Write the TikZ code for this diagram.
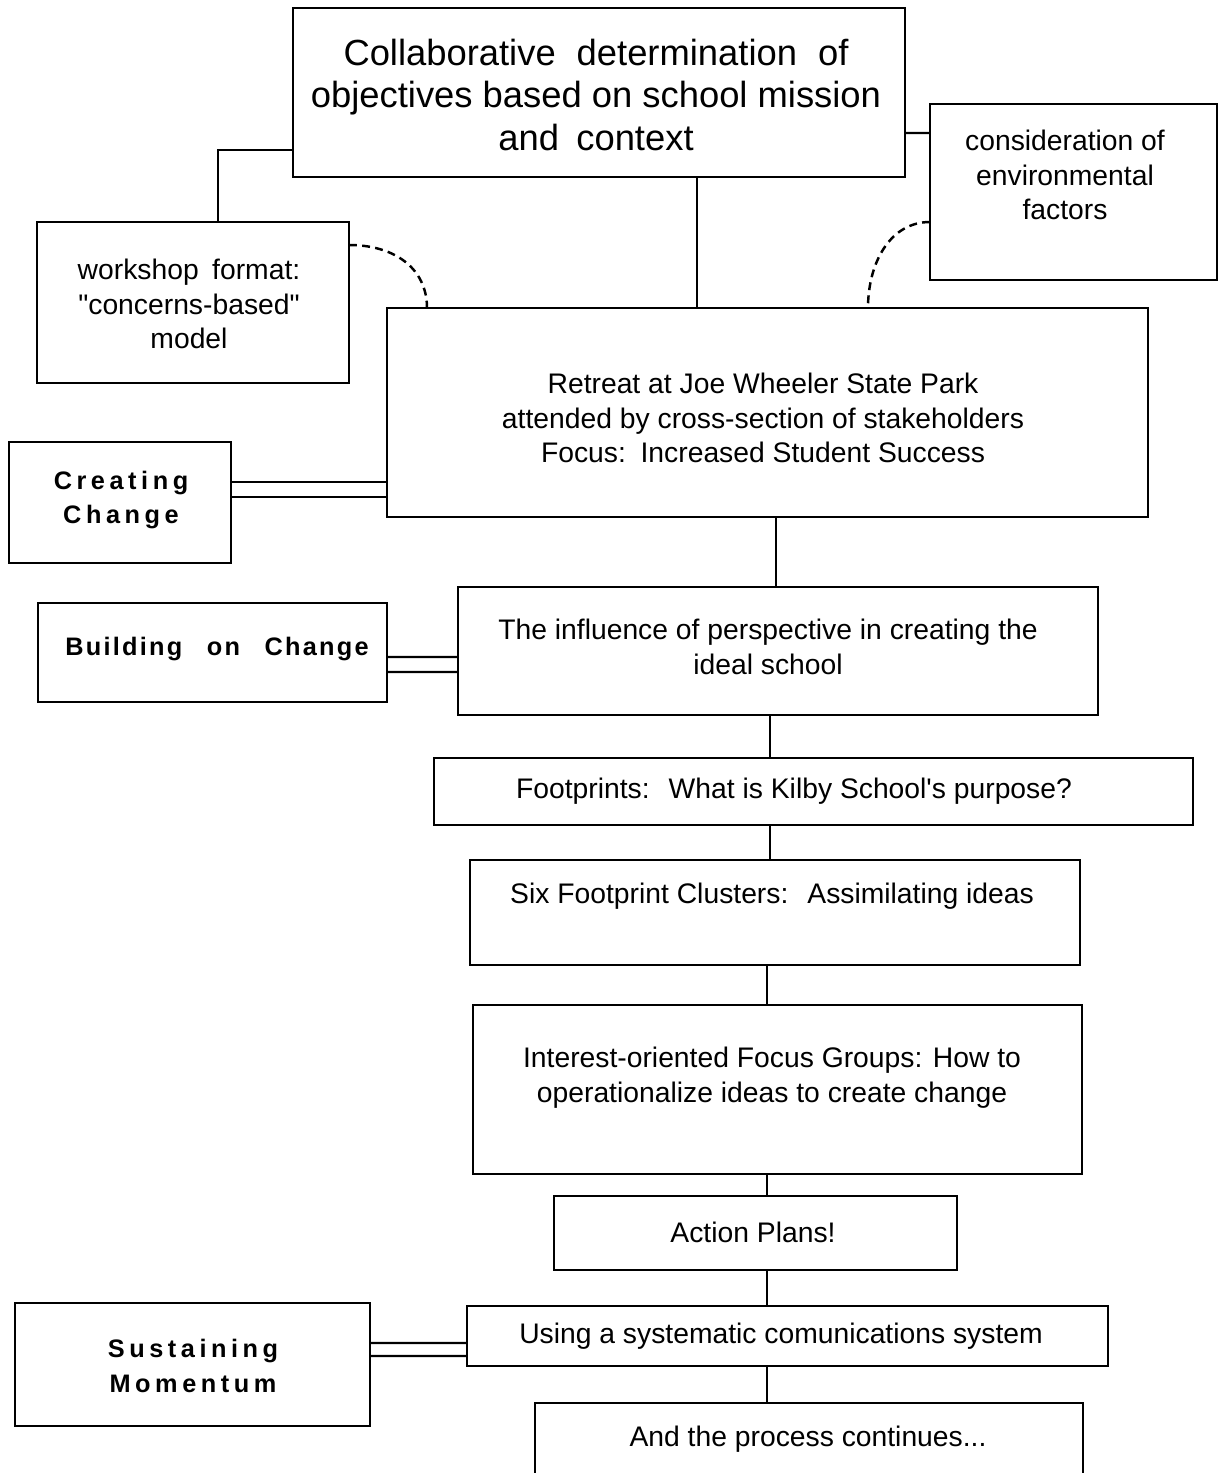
\documentclass[tikz,border=0pt]{standalone}
\usepackage{fontspec}
\setmainfont{Liberation Sans}
\newfontfamily\plainsans{Liberation Sans}
\usetikzlibrary{calc,fit}
\begin{document}
\begin{tikzpicture}[x=0.02cm,y=-0.02cm,
  box/.style={draw, line width=1.6pt, rectangle, inner sep=0pt, outer sep=0pt},
  conn/.style={line width=1.4pt},
  dashlink/.style={line width=1.4pt, dash pattern=on 4.5pt off 3pt},
  body/.style={font=\plainsans\fontsize{16.1}{19.8}\selectfont, align=center, inner sep=0pt},
  big/.style={font=\plainsans\fontsize{20.7}{24.4}\selectfont, align=center, inner sep=0pt},
  lbl/.style={font=\plainsans\fontsize{14.4}{19.8}\selectfont\bfseries, align=center, inner sep=0pt}]
\useasboundingbox (0,0) rectangle (1218,1473);
\clip (0,0) rectangle (1218,1473);
% boxes
\node[box, fit={(293,8) (905,177)}] (top) {};
\node[box, fit={(37,222) (349,383)}] (work) {};
\node[box, fit={(930,104) (1217,280)}] (cons) {};
\node[box, fit={(387,308) (1148,517)}] (ret) {};
\node[box, fit={(9,442) (231,563)}] (cc) {};
\node[box, fit={(458,587) (1098,715)}] (inf) {};
\node[box, fit={(38,603) (387,702)}] (boc) {};
\node[box, fit={(434,758) (1193,825)}] (foot) {};
\node[box, fit={(470,860) (1080,965)}] (six) {};
\node[box, fit={(473,1005) (1082,1174)}] (int) {};
\node[box, fit={(554,1196) (957,1270)}] (act) {};
\node[box, fit={(467,1306) (1108,1366)}] (use) {};
\node[box, fit={(15,1303) (370,1426)}] (sus) {};
\node[box, fit={(535,1403) (1083,1500)}] (cont) {};
% texts
\node[big] (ttop) at (596,95) {Collaborative\hspace{0.3em} determination\hspace{0.3em} of\\ objectives based on school mission\\ and\hspace{0.2em} context};
\node[body] (twork) at (189,304) {workshop\hspace{0.2em} format:\\ "concerns-based"\\ model};
\node[body] (tcons) at (1065,175) {consideration of\\ environmental\\ factors};
\node[body] (tret) at (763,418) {Retreat at Joe Wheeler State Park\\ attended by cross-section of stakeholders\\ Focus:\hspace{0.15em} Increased Student Success};
\node[lbl] (tcc) at (121,500) {\addfontfeature{LetterSpace=18}Creating\\ \addfontfeature{LetterSpace=18}Change};
\node[body] (tinf) at (768,647) {The influence of perspective in creating the\\ ideal school};
\node[lbl] (tboc) at (217,649) {\addfontfeature{LetterSpace=9}Building\hspace{0.6em} on\hspace{0.6em} Change};
\node[body] (tfoot) at (794,791) {Footprints:\hspace{0.3em} What is Kilby School's purpose?};
\node[body] (tsix) at (772,896) {Six Footprint Clusters:\hspace{0.3em} Assimilating ideas};
\node[body] (tint) at (772,1078) {Interest-oriented Focus Groups: How to\\ operationalize ideas to create change};
\node[body] (tact) at (753,1232) {Action Plans!};
\node[body] (tuse) at (781,1336) {Using a systematic comunications system};
\node[lbl] (tsus) at (193,1366) {\addfontfeature{LetterSpace=18}Sustaining\\ \addfontfeature{LetterSpace=18}Momentum};
\node[body] (tcont) at (808,1439) {And the process continues...};
% connectors
\draw[conn] ($(top.south west)+(0,-27)$) -| ($(work.north west)+(181,0)$);
\draw[conn] ($(top.north east)+(0,125)$) -- ($(cons.north west)+(0,29)$);
\draw[conn] ($(top.south west)+(404,0)$) -- ($(ret.north west)+(310,0)$);
\draw[conn] ($(ret.south west)+(389,0)$) -- ($(inf.north west)+(318,0)$);
\draw[conn] ($(inf.south west)+(312,0)$) -- ($(foot.north west)+(336,0)$);
\draw[conn] ($(foot.south west)+(336,0)$) -- ($(six.north west)+(300,0)$);
\draw[conn] ($(six.south west)+(297,0)$) -- ($(int.north west)+(294,0)$);
\draw[conn] ($(int.south west)+(294,0)$) -- ($(act.north west)+(213,0)$);
\draw[conn] ($(act.south west)+(213,0)$) -- ($(use.north west)+(300,0)$);
\draw[conn] ($(use.south west)+(300,0)$) -- ($(cont.north west)+(232,0)$);
% double connectors
\draw[conn] ($(cc.north east)+(0,40)$) -- ($(ret.north west)+(0,174)$);
\draw[conn] ($(cc.north east)+(0,55)$) -- ($(ret.north west)+(0,189)$);
\draw[conn] ($(boc.north east)+(0,54)$) -- ($(inf.north west)+(0,70)$);
\draw[conn] ($(boc.north east)+(0,69)$) -- ($(inf.north west)+(0,85)$);
\draw[conn] ($(sus.north east)+(0,40)$) -- ($(use.north west)+(0,37)$);
\draw[conn] ($(sus.north east)+(0,53)$) -- ($(use.north west)+(0,50)$);
% dashed curves
\draw[dashlink] ($(work.north east)+(0,23)$) .. controls +(45,0) and +(0,-40) .. ($(ret.north west)+(40,0)$);
\draw[dashlink] ($(cons.north west)+(0,118)$) .. controls +(-40,0) and +(0,-45) .. ($(ret.north west)+(481,0)$);
\end{tikzpicture}
\end{document}
